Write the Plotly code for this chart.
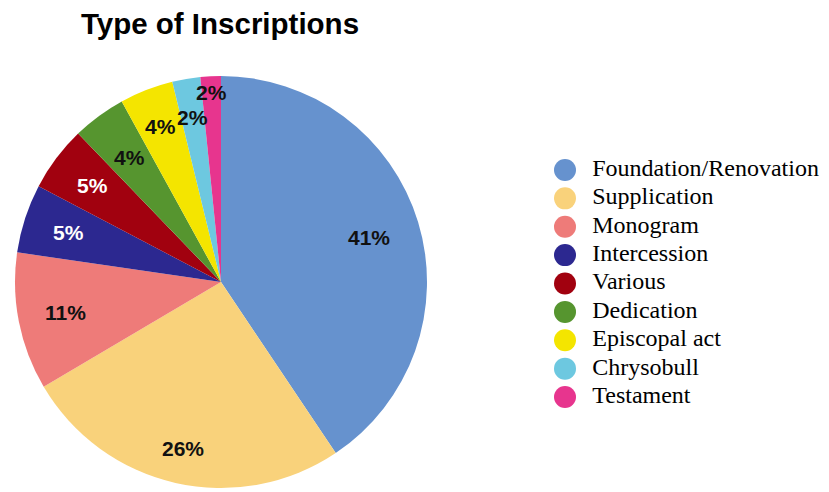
import math
import plotly.graph_objects as go

# ---- data ----
categories = ["Foundation/Renovation", "Supplication", "Monogram", "Intercession",
              "Various", "Dedication", "Episcopal act", "Chrysobull", "Testament"]
shares = [40.6, 25.9, 10.8, 5.4, 5.1, 4.2, 4.2, 2.2, 1.6]
colors = ["#6692CE", "#F9D27B", "#EE7B79", "#2C2890", "#A1010F",
          "#56952F", "#F4E500", "#6DC8E0", "#E7358E"]
label_colors = ["#111111", "#111111", "#111111", "white", "white",
                "#111111", "#111111", "#111111", "#111111"]
label_radius = [0.75, 0.83, 0.77, 0.78, 0.78, 0.75, 0.81, 0.81, 0.92]

W, H = 829, 492
CX, CY, R = 221, 282, 206

fig = go.Figure()
fig.add_trace(go.Pie(
    labels=categories, values=shares, sort=False, direction="clockwise",
    rotation=0, marker=dict(colors=colors, line=dict(width=0)),
    textinfo="none", hoverinfo="label+percent", showlegend=False,
    domain=dict(x=[(CX - R) / W, (CX + R) / W], y=[1 - (CY + R) / H, 1 - (CY - R) / H]),
))

# percentage labels placed at each slice's mid-angle
total = sum(shares)
cum = 0.0
annotations = []
for v, c, rf in zip(shares, label_colors, label_radius):
    mid = (cum + v / 2) / total * 2 * math.pi
    cum += v
    px = CX + rf * R * math.sin(mid)
    py = CY - rf * R * math.cos(mid)
    annotations.append(dict(
        x=px / W, y=1 - py / H, xref="paper", yref="paper", showarrow=False,
        text=f"<b>{round(v / total * 100)}%</b>", xanchor="center", yanchor="middle",
        font=dict(family="Liberation Sans, Arial, sans-serif", size=21, color=c)))

# legend drawn as a marker column
idx = list(range(len(categories)))
fig.add_trace(go.Scatter(
    x=[0] * len(idx), y=idx, mode="markers", xaxis="x2", yaxis="y2",
    marker=dict(size=22, color=colors, line=dict(width=0)),
    hoverinfo="skip", showlegend=False, cliponaxis=False))
fig.add_trace(go.Scatter(
    x=[0] * len(idx), y=idx, mode="markers+text", xaxis="x2", yaxis="y2",
    marker=dict(size=42, opacity=0), text=categories, textposition="middle right",
    textfont=dict(family="Liberation Serif, Times New Roman, serif", size=24, color="black"),
    hoverinfo="skip", showlegend=False, cliponaxis=False))

fig.update_layout(
    width=W, height=H, margin=dict(l=0, r=0, t=0, b=0),
    paper_bgcolor="white", plot_bgcolor="white",
    title=dict(text="<b>Type of Inscriptions</b>", x=220 / W, xanchor="center",
               y=1 - 24 / H, yanchor="middle", yref="container",
               font=dict(family="Liberation Sans, Arial, sans-serif", size=29.5, color="black")),
    annotations=annotations,
    xaxis2=dict(domain=[545 / W, 585 / W], range=[-1, 1], visible=False, fixedrange=True),
    yaxis2=dict(domain=[1 - 411.2 / H, 1 - 155.8 / H], range=[len(idx) - 0.5, -0.5],
                visible=False, fixedrange=True, anchor="x2"),
)
fig.write_html("out.html", config={"displayModeBar": False},
               post_script="document.body.style.margin='0';")
